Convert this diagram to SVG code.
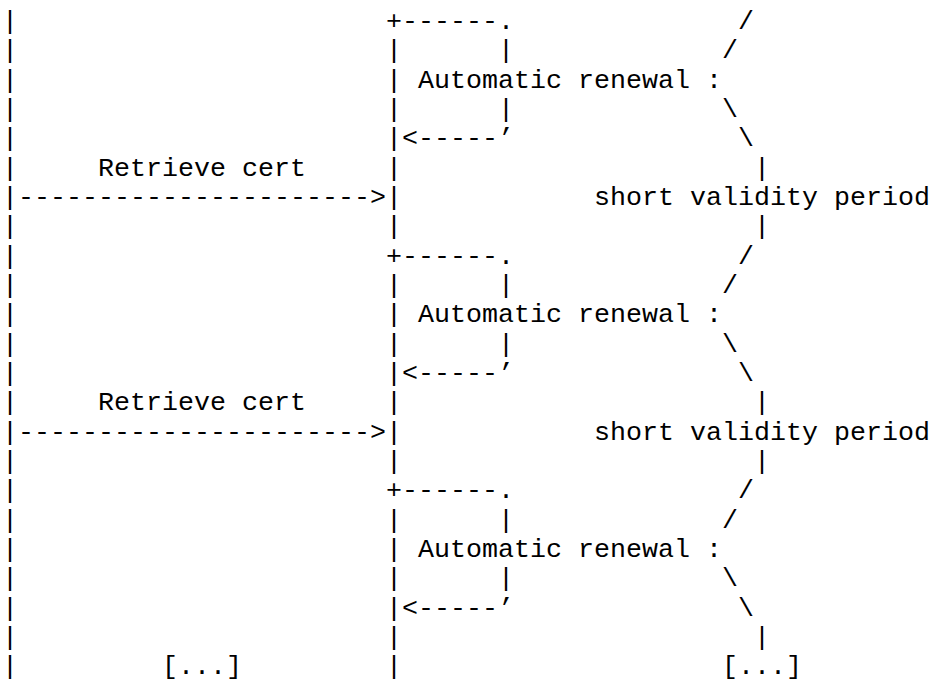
<svg xmlns="http://www.w3.org/2000/svg" width="930" height="682" viewBox="0 0 930 682">
<style>
.t{font-family:"Liberation Mono","DejaVu Sans Mono",monospace;font-size:26.67px;fill:#000;white-space:pre}
</style>
<rect width="930" height="682" fill="#fff"/>
<g id="left-lifeline" class="t">
<text x="2" y="28.9">|</text><text x="2" y="58.2">|</text><text x="2" y="87.6">|</text><text x="2" y="116.9">|</text><text x="2" y="146.2">|</text><text x="2" y="175.6">|</text><text x="2" y="204.9">|</text><text x="2" y="234.2">|</text>
<text x="2" y="263.5">|</text><text x="2" y="292.9">|</text><text x="2" y="322.2">|</text><text x="2" y="351.5">|</text><text x="2" y="380.9">|</text><text x="2" y="410.2">|</text><text x="2" y="439.5">|</text><text x="2" y="468.9">|</text>
<text x="2" y="498.2">|</text><text x="2" y="527.5">|</text><text x="2" y="556.8">|</text><text x="2" y="586.2">|</text><text x="2" y="615.5">|</text><text x="2" y="644.8">|</text><text x="2" y="674.2">|</text>
<text x="162" y="674.2">[...]</text>
</g>
<g id="middle-lifeline" class="t">
<text x="386" y="28.9">+</text><text x="386" y="58.2">|</text><text x="386" y="87.6">|</text><text x="386" y="116.9">|</text><text x="386" y="146.2">|</text><text x="386" y="175.6">|</text><text x="386" y="204.9">|</text><text x="386" y="234.2">|</text>
<text x="386" y="263.5">+</text><text x="386" y="292.9">|</text><text x="386" y="322.2">|</text><text x="386" y="351.5">|</text><text x="386" y="380.9">|</text><text x="386" y="410.2">|</text><text x="386" y="439.5">|</text><text x="386" y="468.9">|</text>
<text x="386" y="498.2">+</text><text x="386" y="527.5">|</text><text x="386" y="556.8">|</text><text x="386" y="586.2">|</text><text x="386" y="615.5">|</text><text x="386" y="644.8">|</text><text x="386" y="674.2">|</text>
</g>
<g id="renewal-1" class="t">
<text x="402" y="28.9">------.</text><text x="498" y="58.2">|</text><text x="418" y="87.6">Automatic renewal :</text><text x="498" y="116.9">|</text><text x="402" y="146.2">&lt;-----&#8217;</text>
</g>
<g id="renewal-2" class="t">
<text x="402" y="263.5">------.</text><text x="498" y="292.9">|</text><text x="418" y="322.2">Automatic renewal :</text><text x="498" y="351.5">|</text><text x="402" y="380.9">&lt;-----&#8217;</text>
</g>
<g id="renewal-3" class="t">
<text x="402" y="498.2">------.</text><text x="498" y="527.5">|</text><text x="418" y="556.8">Automatic renewal :</text><text x="498" y="586.2">|</text><text x="402" y="615.5">&lt;-----&#8217;</text>
</g>
<g id="validity-1" class="t">
<text x="738" y="28.9">/</text><text x="722" y="58.2">/</text><text x="722" y="116.9">\</text><text x="738" y="146.2">\</text><text x="754" y="175.6">|</text><text x="594" y="204.9">short validity period</text><text x="754" y="234.2">|</text>
</g>
<g id="validity-2" class="t">
<text x="738" y="263.5">/</text><text x="722" y="292.9">/</text><text x="722" y="351.5">\</text><text x="738" y="380.9">\</text><text x="754" y="410.2">|</text><text x="594" y="439.5">short validity period</text><text x="754" y="468.9">|</text>
</g>
<g id="validity-3" class="t">
<text x="738" y="498.2">/</text><text x="722" y="527.5">/</text><text x="722" y="586.2">\</text><text x="738" y="615.5">\</text><text x="754" y="644.8">|</text><text x="722" y="674.2">[...]</text>
</g>
<g id="connectors" class="t">
<text x="98" y="175.6">Retrieve cert</text>
<text x="18" y="204.9">----------------------&gt;</text>
<text x="98" y="410.2">Retrieve cert</text>
<text x="18" y="439.5">----------------------&gt;</text>
</g>
</svg>
